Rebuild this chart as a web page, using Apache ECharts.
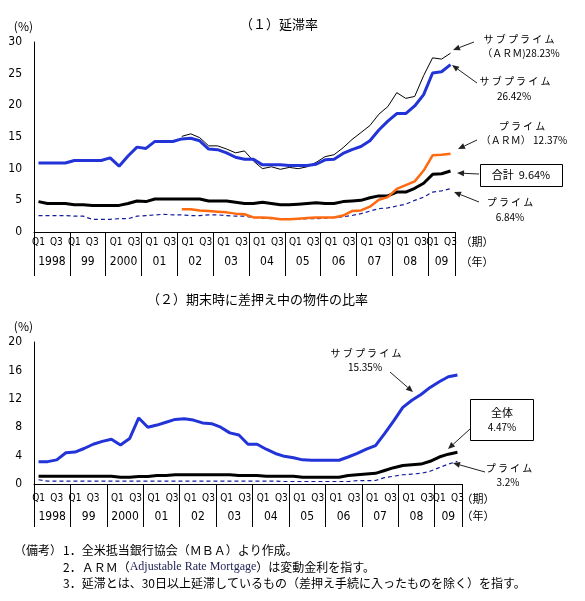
<!DOCTYPE html>
<html>
<head>
<meta charset="utf-8">
<script src="https://cdn.jsdelivr.net/npm/echarts@6/dist/echarts.min.js"></script>
<style>
html, body { margin: 0; padding: 0; background: #fff; }
#chart { width: 585px; height: 601px; }
</style>
</head>
<body>
<div id="chart"></div>
<script>
// 年・四半期
var yearLabels = ['1998', '99', '2000', '01', '02', '03', '04', '05', '06', '07', '08', '09'];
var quarterNames = ['Q1', 'Q2', 'Q3', 'Q4'];
var lastYearQuarters = 3; // 2009はQ3まで

// (1) 延滞率
var delinqSubArm = [null, null, null, null, null, null, null, null, null, null, null, null, null, null, null, null,
    15.1, 15.5, 14.9, 13.6, 13.6, 13.1, 12.5, 12.8, 11.2, 10.0, 10.3, 9.9, 10.2, 10.0,
    10.3, 11.0, 11.9, 12.2, 13.3, 14.6, 15.7, 16.8, 18.6, 19.8, 22.0, 21.1, 21.4, 24.7, 27.5, 27.3, 28.23];
var delinqSub = [10.9, 10.9, 10.9, 10.9, 11.3, 11.3, 11.3, 11.3, 11.7, 10.4,
    12.0, 13.4, 13.2, 14.3, 14.3, 14.3, 14.7, 14.8, 14.4, 13.1,
    13.0, 12.5, 11.8, 11.5, 11.5, 10.6, 10.6, 10.6, 10.5, 10.5,
    10.5, 10.7, 11.4, 11.5, 12.4, 13.0, 13.5, 14.4, 16.1, 17.5,
    18.7, 18.7, 19.9, 21.7, 25.1, 25.3, 26.42];
var delinqPrimeArm = [null, null, null, null, null, null, null, null, null, null, null, null, null, null, null, null,
    3.6, 3.6, 3.4, 3.3, 3.2, 3.1, 2.9, 2.8, 2.3, 2.3,
    2.2, 2.0, 2.0, 2.1, 2.2, 2.3, 2.3, 2.3, 2.6, 3.3,
    3.4, 4.0, 5.1, 5.5, 6.8, 7.4, 8.0, 9.7, 12.1, 12.2, 12.37];
var delinqTotal = [4.8, 4.5, 4.5, 4.5, 4.3, 4.3, 4.2, 4.2, 4.2, 4.2,
    4.5, 4.9, 4.8, 5.2, 5.2, 5.2, 5.2, 5.2, 5.2, 4.9,
    4.9, 4.9, 4.7, 4.5, 4.5, 4.7, 4.5, 4.3, 4.3, 4.4,
    4.5, 4.6, 4.5, 4.5, 4.8, 4.9, 5.0, 5.4, 5.7, 5.7,
    6.3, 6.3, 6.9, 7.7, 9.1, 9.2, 9.64];
var delinqPrime = [2.6, 2.6, 2.6, 2.6, 2.5, 2.5, 2.0, 2.0, 2.0, 2.1,
    2.1, 2.5, 2.6, 2.7, 2.8, 2.7, 2.7, 2.6, 2.6, 2.7,
    2.7, 2.6, 2.5, 2.5, 2.3, 2.2, 2.1, 2.0, 2.0, 2.0,
    2.1, 2.1, 2.2, 2.3, 2.4, 2.6, 2.9, 3.3, 3.7, 3.8,
    4.1, 4.4, 5.0, 5.5, 6.3, 6.5, 6.84];

// (2) 期末時に差押え中の物件の比率
var forecSub = [3.15, 3.15, 3.4, 4.4, 4.5, 5.0, 5.6, 6.0, 6.3, 5.5,
    6.4, 9.3, 8.0, 8.3, 8.7, 9.1, 9.2, 9.0, 8.6, 8.5,
    8.0, 7.2, 6.9, 5.6, 5.6, 4.9, 4.3, 3.9, 3.7, 3.4,
    3.35, 3.35, 3.35, 3.35, 3.8, 4.3, 4.9, 5.4, 7.1, 8.9,
    10.8, 11.8, 12.6, 13.6, 14.4, 15.1, 15.35];
var forecTotal = [1.1, 1.1, 1.1, 1.1, 1.1, 1.1, 1.1, 1.1, 1.1, 0.95,
    0.95, 1.05, 1.05, 1.2, 1.2, 1.3, 1.3, 1.3, 1.3, 1.3,
    1.3, 1.3, 1.2, 1.2, 1.2, 1.1, 1.1, 1.1, 1.1, 0.95,
    0.95, 0.95, 0.95, 0.95, 1.2, 1.3, 1.4, 1.5, 1.9, 2.3,
    2.6, 2.7, 2.8, 3.2, 3.8, 4.2, 4.47];
var forecPrime = [0.6, 0.4, 0.4, 0.4, 0.4, 0.4, 0.4, 0.4, 0.4, 0.4,
    0.4, 0.4, 0.4, 0.4, 0.4, 0.4, 0.4, 0.4, 0.4, 0.4,
    0.4, 0.4, 0.4, 0.4, 0.4, 0.4, 0.4, 0.35, 0.35, 0.35,
    0.35, 0.35, 0.35, 0.35, 0.35, 0.47, 0.47, 0.5, 0.9, 1.1,
    1.3, 1.4, 1.5, 1.8, 2.3, 2.8, 3.2];

var quarters = [];
var yearCenters = [];
var yearBounds = [0];
yearLabels.forEach(function (y, k) {
    var n = k === yearLabels.length - 1 ? lastYearQuarters : 4;
    yearCenters.push(quarters.length + n / 2);
    for (var q = 0; q < n; q++) {
        quarters.push(k + '-' + quarterNames[q]);
    }
    yearBounds.push(quarters.length);
});

var jp = '"Noto Sans CJK JP", sans-serif';
var narrow = '"Liberation Sans Narrow", "DejaVu Sans Condensed", "Liberation Sans", sans-serif';

function quarterAxis(gridIndex, margin) {
    return {
        type: 'category',
        gridIndex: gridIndex,
        position: 'bottom',
        data: quarters,
        boundaryGap: true,
        axisLine: { lineStyle: { color: '#000', width: 1 } },
        axisTick: { show: false },
        axisLabel: {
            interval: function (i) { return i % 4 === 0 || i % 4 === 2; },
            margin: margin,
            color: '#000',
            fontSize: 10,
            fontFamily: narrow,
            formatter: function (v, i) {
                var q = v.split('-')[1];
                // 2000〜2008年のラベルは右寄せ気味
                return (i >= 8 && i < 44) ? '{s|' + q + '}' : q;
            },
            rich: {
                s: { fontSize: 10, fontFamily: narrow, color: '#000', padding: [0, 0, 0, 12] }
            }
        },
        splitLine: { show: false }
    };
}

// 年ラベルと年の区切り線
function yearAxis(gridIndex, margin, tickLen) {
    return {
        type: 'value',
        gridIndex: gridIndex,
        position: 'bottom',
        offset: 0,
        min: 0,
        max: quarters.length,
        axisLine: { show: false },
        axisTick: {
            show: true,
            inside: false,
            length: tickLen,
            customValues: yearBounds,
            lineStyle: { color: '#000', width: 1 }
        },
        splitLine: { show: false },
        axisLabel: {
            customValues: yearCenters,
            margin: margin,
            color: '#000',
            fontSize: 12,
            fontFamily: narrow,
            formatter: function (v) {
                var k = yearCenters.indexOf(v);
                return k >= 0 ? yearLabels[k] : '';
            }
        }
    };
}

function valueAxis(gridIndex, max, interval) {
    return {
        type: 'value',
        gridIndex: gridIndex,
        min: 0,
        max: max,
        interval: interval,
        name: '(%)',
        nameLocation: 'end',
        nameGap: 10,
        nameTextStyle: { color: '#000', fontSize: 12, fontFamily: jp, align: 'right', padding: [0, 1, 0, 0] },
        axisLine: { show: true, lineStyle: { color: '#000', width: 1 } },
        axisTick: { show: false },
        splitLine: { show: false },
        axisLabel: { margin: 12, color: '#000', fontSize: 12, fontFamily: narrow }
    };
}

function line(data, xi, yi, color, width, dashed) {
    return {
        type: 'line',
        xAxisIndex: xi,
        yAxisIndex: yi,
        data: data,
        showSymbol: false,
        symbol: 'none',
        connectNulls: false,
        lineStyle: { color: color, width: width, type: dashed ? [4, 3] : 'solid' },
        silent: true
    };
}

function txt(s, x, y, size, align) {
    return {
        type: 'text', x: x, y: y, silent: true,
        style: { text: s, fontSize: size || 11, fontFamily: jp, fill: '#000', align: align || 'center', verticalAlign: 'middle' }
    };
}

function arrow(x1, y1, x2, y2) {
    var a = Math.atan2(y2 - y1, x2 - x1), L = 7, W = 3;
    var bx = x2 - L * Math.cos(a), by = y2 - L * Math.sin(a);
    return [
        { type: 'line', silent: true, shape: { x1: x1, y1: y1, x2: bx, y2: by }, style: { stroke: '#222', lineWidth: 1 } },
        { type: 'polygon', silent: true, shape: { points: [[x2, y2], [bx - W * Math.sin(a), by + W * Math.cos(a)], [bx + W * Math.sin(a), by - W * Math.cos(a)]] }, style: { fill: '#222' } }
    ];
}

var blue = '#2233d8', orange = '#ff6a10', navy = '#141c9c';

var graphics = [
    // (1) annotations
    txt('サ ブ プ ラ イ ム', 519, 39, 10), txt('（ＡＲＭ)28.23%', 521, 53, 10),
    txt('サ ブ プ ラ イ ム', 515, 81, 10), txt('26.42%', 514, 96, 10),
    txt('プ ラ イ ム', 522, 126, 10), txt('（ＡＲＭ） 12.37%', 524, 140, 10),
    { type: 'rect', silent: true, shape: { x: 480.5, y: 164.5, width: 82, height: 22 }, style: { fill: '#fff', stroke: '#000', lineWidth: 1 } },
    txt('合計  9.64%', 521, 175, 11),
    txt('プ ラ イ ム', 510, 202, 10), txt('6.84%', 510, 217, 10),
    // (2) annotations
    txt('サ ブ プ ラ イ ム', 366, 353, 10), txt('15.35%', 365, 367, 10),
    { type: 'rect', silent: true, shape: { x: 470.5, y: 399.5, width: 63, height: 41 }, style: { fill: '#fff', stroke: '#000', lineWidth: 1 } },
    txt('全体', 502, 413, 11), txt('4.47%', 502, 427, 10),
    txt('プ ラ イ ム', 509, 468, 10), txt('3.2%', 508, 482, 10),
    // axis unit labels
    txt('（期）', 477, 242, 11), txt('（年）', 477, 262, 11),
    txt('（期）', 478, 499, 11), txt('（年）', 478, 516, 11),
    // notes
    txt('（備考）', 14, 550, 12, 'left'),
    txt('1．全米抵当銀行協会（ＭＢＡ）より作成。', 63, 550, 12, 'left'),
    {
        type: 'text', x: 63, y: 567, silent: true,
        style: {
            text: '2．ＡＲＭ（{en|Adjustable Rate Mortgage}）は変動金利を指す。',
            fontSize: 12, fontFamily: jp, fill: '#000', align: 'left', verticalAlign: 'middle',
            rich: { en: { fontSize: 12, fontFamily: '"Liberation Serif", serif', fill: '#1c1c50' } }
        }
    },
    txt('3．延滞とは、30日以上延滞しているもの（差押え手続に入ったものを除く）を指す。', 63, 583, 12, 'left')
];
[[474, 42, 453, 50], [477, 83, 452, 65], [477, 140, 458, 149], [479, 174, 457, 173], [479, 202, 454, 192],
 [390, 372, 413, 392], [470, 429, 448, 449], [485, 472, 453, 463]].forEach(function (a) {
    graphics = graphics.concat(arrow(a[0], a[1], a[2], a[3]));
});

var chart = echarts.init(document.getElementById('chart'), null, { renderer: 'canvas' });
chart.setOption({
    backgroundColor: '#fff',
    animation: false,
    textStyle: { fontFamily: jp },
    title: [
        { text: '（１）延滞率', left: 240, top: 18, padding: 0, textStyle: { fontSize: 13, fontWeight: 'normal', color: '#000', fontFamily: jp } },
        { text: '（２）期末時に差押え中の物件の比率', left: 147, top: 293, padding: 0, textStyle: { fontSize: 13, fontWeight: 'normal', color: '#000', fontFamily: jp } }
    ],
    grid: [
        { left: 34, top: 42, width: 421, height: 190, outerBoundsMode: 'none' },
        { left: 34, top: 342, width: 428, height: 142, outerBoundsMode: 'none' }
    ],
    xAxis: [quarterAxis(0, 5), yearAxis(0, 24, 44), quarterAxis(1, 9), yearAxis(1, 27, 43)],
    yAxis: [valueAxis(0, 30, 5), valueAxis(1, 20, 4)],
    series: [
        line(delinqPrime, 0, 0, navy, 1.2, true),
        line(delinqTotal, 0, 0, '#000', 3),
        line(delinqPrimeArm, 0, 0, orange, 2.5),
        line(delinqSubArm, 0, 0, '#000', 1),
        line(delinqSub, 0, 0, blue, 3),
        line(forecPrime, 2, 1, navy, 1.2, true),
        line(forecTotal, 2, 1, '#000', 3),
        line(forecSub, 2, 1, blue, 3)
    ],
    graphic: graphics
});
</script>
</body>
</html>
